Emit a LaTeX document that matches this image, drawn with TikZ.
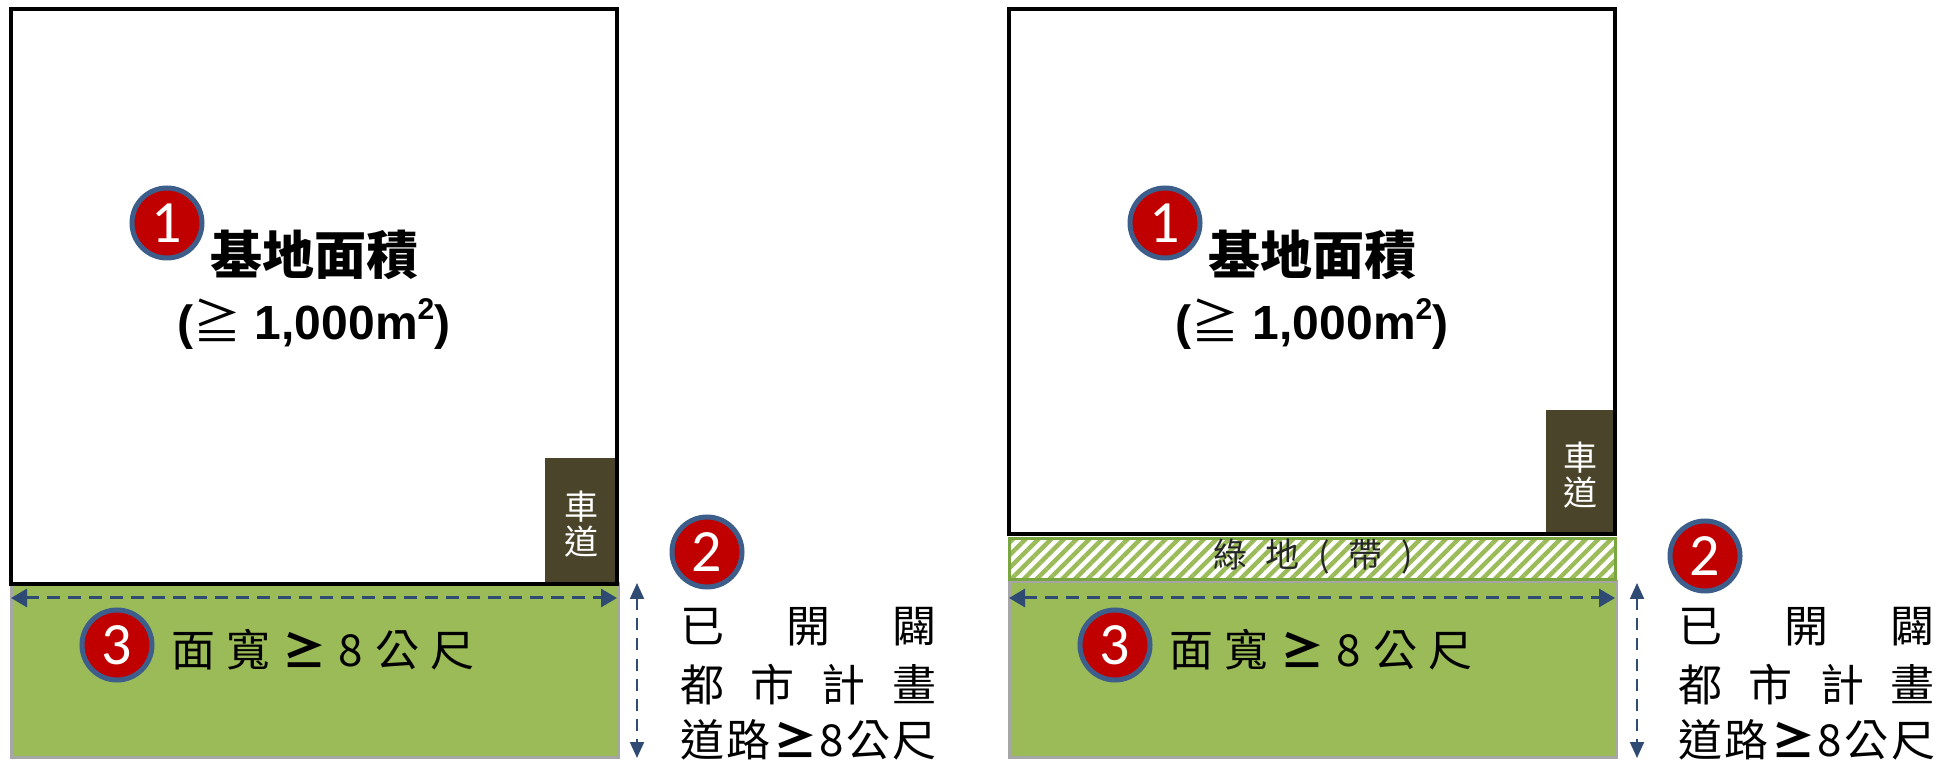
\documentclass[tikz,border=0pt]{standalone}
\usepackage{fontspec}
\setmainfont{Liberation Sans}
\newfontfamily\cjk{Noto Sans CJK TC}
\newfontfamily\numfont{Carlito}
\usetikzlibrary{arrows.meta,patterns.meta}
\definecolor{roadgreen}{RGB}{155,187,89}
\definecolor{stripgreen}{RGB}{122,166,64}
\definecolor{rampbrown}{RGB}{74,68,42}
\definecolor{badgered}{RGB}{192,0,0}
\definecolor{badgeblue}{RGB}{61,93,138}
\definecolor{dimblue}{RGB}{47,74,115}
\definecolor{edgegray}{RGB}{166,166,166}
\newcommand{\sqm}{m\raisebox{0.42em}{\fontsize{15}{15}\selectfont 2}}
\tikzset{
	badge/.style={circle, fill=badgered, draw=badgeblue, line width=2.5pt, minimum size=35pt, inner sep=0pt, text=white, font=\numfont\fontsize{30}{30}\selectfont},
	road/.style={draw=edgegray, fill=roadgreen, line width=1.5pt},
	lot/.style={draw=black, line width=2pt},
	ramp/.style={fill=rampbrown},
	ramptext/.style={text=white, align=center, inner sep=0pt, font=\cjk\fontsize{17}{17.5}\selectfont},
	widthdim/.style={dimblue, line width=1.5pt, dash pattern=on 6.5pt off 4pt, {Triangle[length=8pt,width=9pt]}-{Triangle[length=8pt,width=9pt]}},
	roaddim/.style={dimblue, line width=1pt, dash pattern=on 6pt off 4pt, {Triangle[length=8pt,width=7pt]}-{Triangle[length=8pt,width=7pt]}},
	roadtext/.style={inner sep=0pt, font=\cjk\fontsize{22}{22}\selectfont}
}
\begin{document}
\begin{tikzpicture}[x=0.5pt,y=-0.5pt]
	\useasboundingbox (0,0) rectangle (1942,763);

	\draw[road] (11,584) rectangle (618,757);
	\fill[ramp] (545,458) rectangle (617,584);
	\draw[lot] (11,9) rectangle (617,584);
	\node[ramptext] (rampL) at (581,524) {車\\道};

	\node[badge] (badge1L) at (167,223) {1};
	\node[inner sep=0pt, font=\cjk\bfseries\fontsize{26}{26}\selectfont] (areaL) at (314,255) {基地面積};
	\node[inner sep=0pt, font=\bfseries\fontsize{24}{24}\selectfont] (minL) at (314,324) {({\cjk\mdseries ≧}\ 1,000\sqm)};

	\coordinate (frontAL) at (11,598);
	\coordinate (frontBL) at (617,598);
	\draw[widthdim] (frontAL) -- (frontBL);
	\node[badge] (badge3L) at (117,645) {3};
	\node[roadtext] (frontL) at (323,650) {\makebox[152pt]{面\hfill 寬\hfill {\bfseries ≥}\hfill 8\hfill 公\hfill 尺}};

	\coordinate (roadAL) at (637,583);
	\coordinate (roadBL) at (637,758);
	\draw[roaddim] (roadAL) -- (roadBL);
	\node[badge] (badge2L) at (707,552) {2};
	\node[roadtext] (openL) at (808.5,627) {\makebox[128.5pt]{已\hfill 開\hfill 闢}};
	\node[roadtext] (planL) at (808.5,685) {\makebox[128.5pt]{都\hfill 市\hfill 計\hfill 畫}};
	\node[roadtext] (wideL) at (808.5,740) {\makebox[128.5pt]{道\hfill 路\hfill {\bfseries ≥}\hfill 8\hfill 公\hfill 尺}};

	\begin{scope}[shift={(998,0)}]
		\draw[road] (11,582) rectangle (618,757);
		\draw[draw=stripgreen, line width=1.5pt, pattern={Lines[angle=45,distance=4.5pt,line width=2.2pt]}, pattern color=roadgreen] (11,539) rectangle (617,580);
		\node[inner sep=0pt, text=black!85, font=\cjk\fontsize{17}{17}\selectfont] (stripR) at (315,557) {\makebox[100pt]{綠\hfill 地\hfill (\hfill 帶\hfill )}};
		\fill[ramp] (548,410) rectangle (617,534);
		\draw[lot] (11,9) rectangle (617,534);
		\node[ramptext] (rampR) at (582,475) {車\\道};

		\node[badge] (badge1R) at (167,223) {1};
		\node[inner sep=0pt, font=\cjk\bfseries\fontsize{26}{26}\selectfont] (areaR) at (314,255) {基地面積};
		\node[inner sep=0pt, font=\bfseries\fontsize{24}{24}\selectfont] (minR) at (314,324) {({\cjk\mdseries ≧}\ 1,000\sqm)};

		\coordinate (frontAR) at (11,598);
		\coordinate (frontBR) at (617,598);
		\draw[widthdim] (frontAR) -- (frontBR);
		\node[badge] (badge3R) at (117,645) {3};
		\node[roadtext] (frontR) at (323,650) {\makebox[152pt]{面\hfill 寬\hfill {\bfseries ≥}\hfill 8\hfill 公\hfill 尺}};

		\coordinate (roadAR) at (639,583);
		\coordinate (roadBR) at (639,758);
		\draw[roaddim] (roadAR) -- (roadBR);
		\node[badge] (badge2R) at (707,556) {2};
		\node[roadtext] (openR) at (808.5,627) {\makebox[128.5pt]{已\hfill 開\hfill 闢}};
		\node[roadtext] (planR) at (808.5,685) {\makebox[128.5pt]{都\hfill 市\hfill 計\hfill 畫}};
		\node[roadtext] (wideR) at (808.5,740) {\makebox[128.5pt]{道\hfill 路\hfill {\bfseries ≥}\hfill 8\hfill 公\hfill 尺}};
	\end{scope}
\end{tikzpicture}
\end{document}
